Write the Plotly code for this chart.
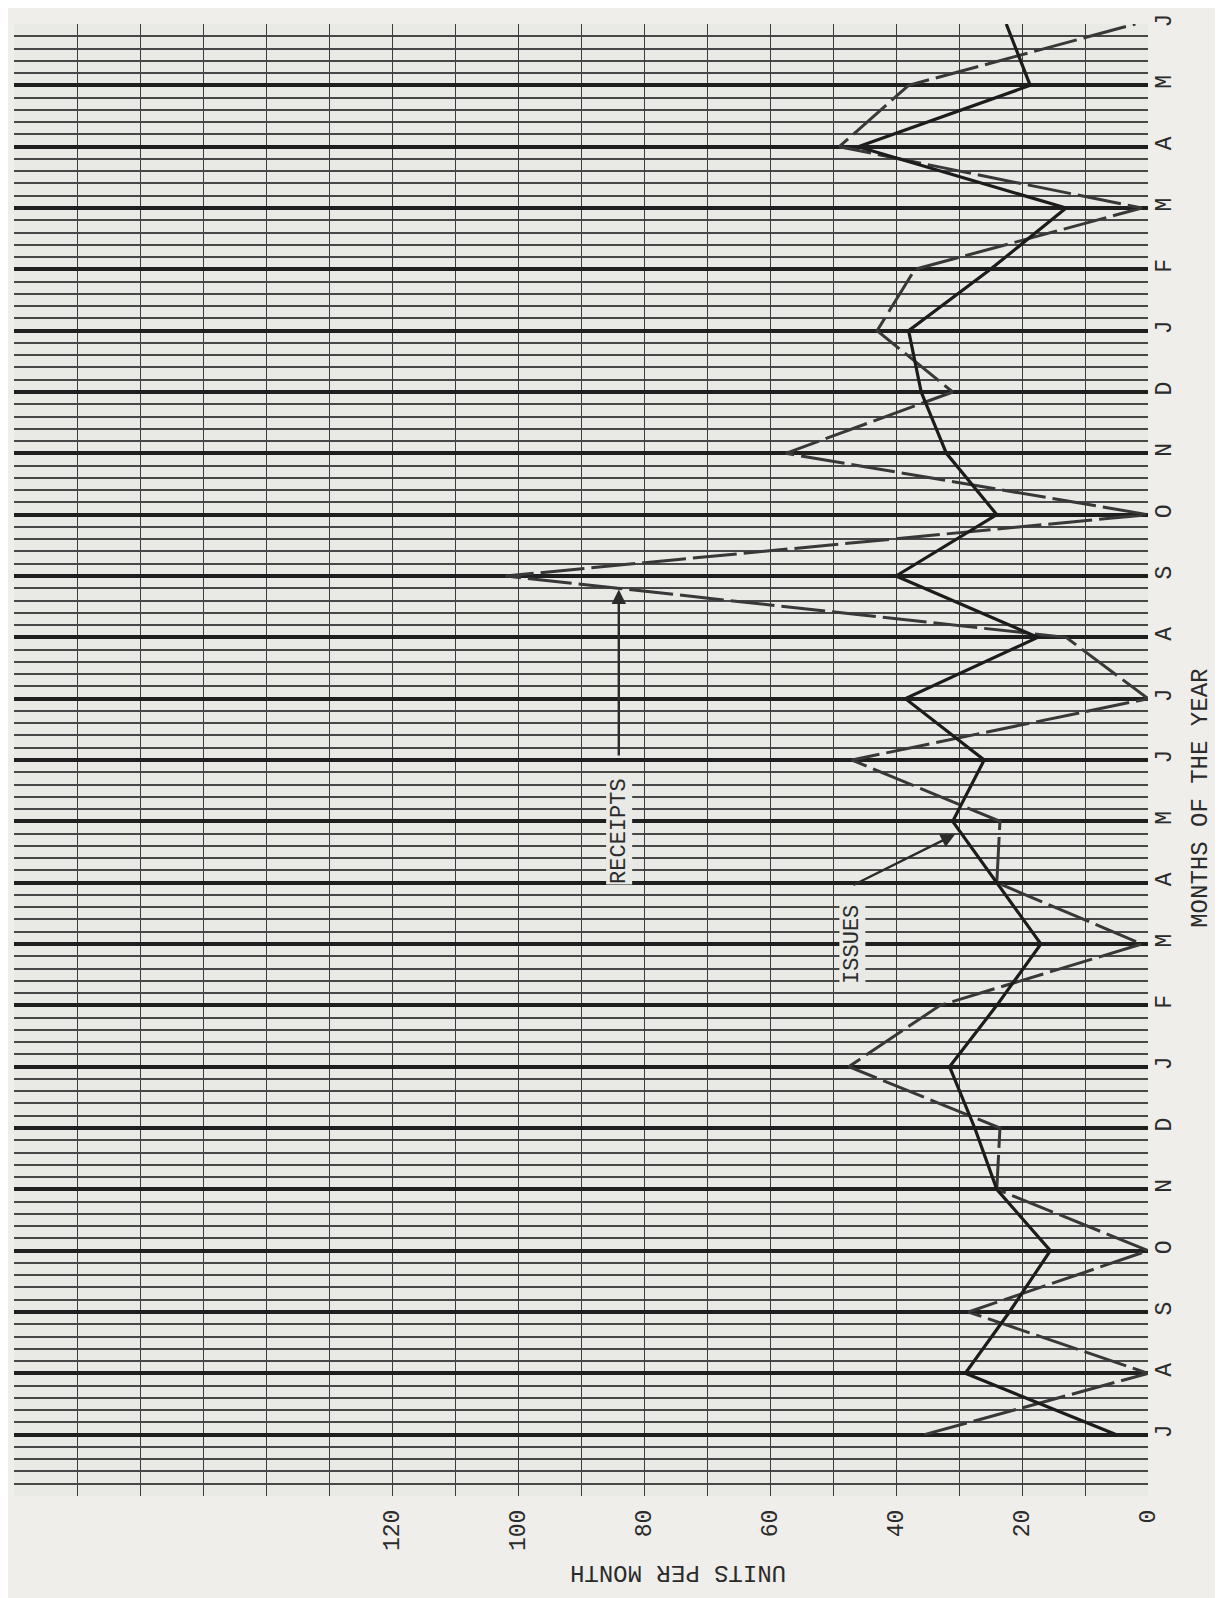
import plotly.graph_objects as go

# ---- data ----
months = ["J", "A", "S", "O", "N", "D", "J", "F", "M", "A", "M", "J",
          "J", "A", "S", "O", "N", "D", "J", "F", "M", "A", "M", "J"]
issues = [5, 29, 22, 15.5, 24, 27.5, 31.5, 24, 17, 24, 31, 26,
          38.5, 17.5, 40, 24, 32, 36, 38, 25, 13, 46, 18.7, 22.5]
receipts = [35.5, 0, 28.5, 0, 24, 23.5, 47.5, 33, 1, 24, 23.5, 47,
            0, 13, 102, 0, 57.5, 31, 43, 37, 1, 49, 38, 2]
value_ticks = [0, 20, 40, 60, 80, 100, 120]

idx = list(range(len(months)))

ink = "#2b2b2b"
mono = "Liberation Mono, Courier New, monospace"
fs = 23

fig = go.Figure()
fig.add_trace(go.Scatter(x=receipts, y=idx, mode="lines", name="RECEIPTS",
                         line=dict(color="#383838", width=3, dash="44px,7px"),
                         showlegend=False))
fig.add_trace(go.Scatter(x=issues, y=idx, mode="lines", name="ISSUES",
                         line=dict(color="#1c1c1c", width=3.2),
                         showlegend=False))

fig.update_layout(
    width=1223, height=1598,
    margin=dict(l=6, r=83, t=8, b=110),
    paper_bgcolor="#efeeea",
    plot_bgcolor="#e9e9e5",
    font=dict(family=mono, color=ink),
    xaxis=dict(
        range=[180, 0], tickmode="array", tickvals=value_ticks,
        ticktext=[str(v) for v in value_ticks], tickangle=-90,
        tickfont=dict(size=fs, family=mono, color=ink),
        showgrid=True, gridcolor="#3c3c3c", gridwidth=1.4,
        minor=dict(tick0=0, dtick=10, showgrid=True, gridcolor="#3c3c3c", gridwidth=1.4),
        zeroline=False, showline=False, ticks="", ticklabelstandoff=8,
        ticklabeloverflow="allow",
    ),
    yaxis=dict(
        range=[-1, 23.0001], side="right", tickmode="array", tickvals=idx,
        ticktext=months, tickangle=-90,
        tickfont=dict(size=fs, family=mono, color=ink),
        showgrid=True, gridcolor="#1f1f1f", gridwidth=3.8,
        minor=dict(tick0=-1, dtick=0.2, showgrid=True, gridcolor="#474747", gridwidth=2.3),
        zeroline=False, showline=False, ticks="", ticklabelstandoff=-1,
        ticklabeloverflow="allow",
    ),
)

annotations = [
    dict(text="UNITS PER MONTH", xref="paper", yref="paper", x=0.683, y=-0.062,
         showarrow=False, textangle=180, font=dict(size=fs + 1, family=mono, color=ink)),
    dict(text="MONTHS OF THE YEAR", xref="paper", yref="paper", x=1.06, y=0.474,
         showarrow=False, textangle=-90, font=dict(size=fs + 1, family=mono, color=ink)),
    dict(text="RECEIPTS", x=84, y=9.84, xref="x", yref="y", showarrow=False,
         textangle=-90, bgcolor="#e9e9e5", borderpad=0,
         font=dict(size=fs - 1, family=mono, color=ink)),
    dict(text="", x=84, y=13.78, ax=84, ay=11.05, xref="x", yref="y", axref="x", ayref="y",
         showarrow=True, arrowhead=2, arrowsize=1.2, arrowwidth=2.4, arrowcolor=ink),
    dict(text="ISSUES", x=47, y=8.0, xref="x", yref="y", showarrow=False,
         textangle=-90, bgcolor="#e9e9e5", borderpad=0,
         font=dict(size=fs - 1, family=mono, color=ink)),
    dict(text="", x=30.6, y=9.79, ax=47, ay=8.95, xref="x", yref="y", axref="x", ayref="y",
         showarrow=True, arrowhead=2, arrowsize=1.2, arrowwidth=2.4, arrowcolor=ink),
]
fig.update_layout(annotations=annotations)

fig.write_html("out.html")
